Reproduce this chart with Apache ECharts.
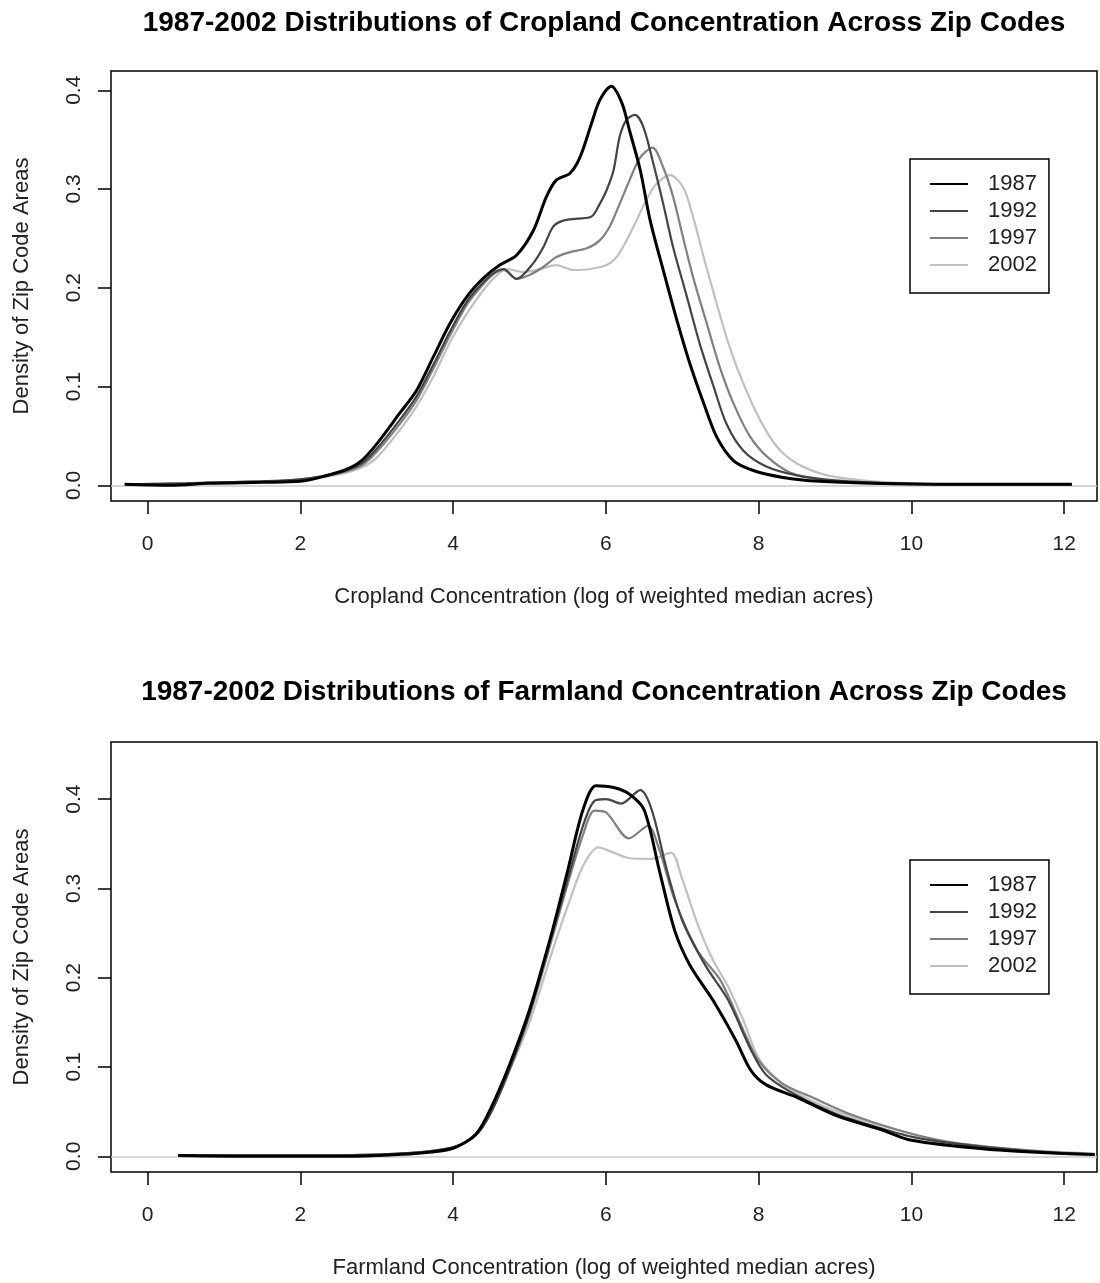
<!DOCTYPE html>
<html>
<head>
<meta charset="utf-8">
<script type="text/javascript" src="https://cdn.jsdelivr.net/npm/echarts@6/dist/echarts.min.js"></script>
<style type="text/css">
    * { margin: 0; padding: 0; }
    #container { width: 1100px; height: 1283px; background: #fff; }
</style>
</head>
<body>
<div id="container"></div>
<script type="text/javascript">
var years = ['1987', '1992', '1997', '2002'];
var xTicks = [0, 2, 4, 6, 8, 10, 12];
var yTicks = [0, 0.1, 0.2, 0.3, 0.4];

// cropland densities, [x, density]
var crop1987 = [[-0.3,0.001],[0.3,0.0],[0.8,0.002],[1.5,0.003],[2.0,0.004],[2.3,0.009],[2.6,0.016],[2.8,0.025],[3.0,0.042],[3.3,0.073],[3.52,0.096],[3.74,0.130],[3.96,0.164],[4.18,0.191],[4.4,0.210],[4.61,0.223],[4.83,0.233],[5.05,0.258],[5.22,0.292],[5.35,0.309],[5.53,0.316],[5.66,0.332],[5.81,0.366],[5.92,0.390],[6.07,0.404],[6.21,0.387],[6.31,0.359],[6.45,0.319],[6.58,0.268],[6.75,0.218],[6.93,0.167],[7.10,0.123],[7.28,0.083],[7.45,0.049],[7.67,0.025],[7.93,0.015],[8.32,0.008],[8.8,0.004],[9.5,0.002],[10.5,0.001],[12.1,0.001]];
var crop1992 = [[-0.3,0.001],[0.5,0.002],[1.5,0.004],[2.0,0.006],[2.5,0.013],[2.8,0.022],[3.0,0.037],[3.3,0.066],[3.52,0.090],[3.74,0.122],[3.96,0.156],[4.18,0.186],[4.4,0.206],[4.55,0.216],[4.66,0.219],[4.83,0.209],[5.05,0.225],[5.18,0.241],[5.31,0.262],[5.44,0.268],[5.62,0.270],[5.81,0.272],[5.92,0.285],[6.01,0.299],[6.10,0.319],[6.18,0.353],[6.27,0.370],[6.38,0.375],[6.49,0.363],[6.62,0.326],[6.75,0.285],[6.88,0.241],[7.06,0.191],[7.23,0.143],[7.41,0.100],[7.58,0.062],[7.80,0.035],[8.10,0.019],[8.50,0.010],[9.0,0.005],[9.8,0.002],[11,0.001],[12.1,0.001]];
var crop1997 = [[-0.3,0.001],[0.5,0.002],[1.5,0.004],[2.0,0.006],[2.5,0.012],[2.8,0.020],[3.0,0.034],[3.3,0.062],[3.52,0.086],[3.74,0.118],[3.96,0.152],[4.18,0.183],[4.4,0.204],[4.55,0.215],[4.66,0.218],[4.83,0.209],[5.00,0.213],[5.18,0.221],[5.35,0.231],[5.53,0.236],[5.75,0.240],[5.92,0.248],[6.05,0.262],[6.18,0.285],[6.31,0.309],[6.45,0.332],[6.61,0.342],[6.75,0.322],[6.88,0.292],[7.01,0.251],[7.14,0.211],[7.32,0.164],[7.49,0.120],[7.67,0.083],[7.89,0.049],[8.11,0.029],[8.41,0.013],[8.8,0.006],[9.5,0.002],[11,0.001],[12.1,0.001]];
var crop2002 = [[-0.3,0.001],[0.5,0.002],[1.5,0.004],[2.0,0.005],[2.5,0.011],[2.8,0.018],[3.0,0.028],[3.3,0.056],[3.52,0.080],[3.74,0.110],[3.96,0.145],[4.18,0.174],[4.4,0.198],[4.55,0.211],[4.70,0.219],[4.92,0.216],[5.14,0.219],[5.35,0.223],[5.57,0.218],[5.79,0.219],[6.01,0.223],[6.14,0.231],[6.27,0.248],[6.40,0.268],[6.53,0.289],[6.66,0.305],[6.84,0.314],[7.01,0.302],[7.14,0.272],[7.28,0.231],[7.45,0.184],[7.62,0.140],[7.80,0.103],[8.02,0.066],[8.24,0.039],[8.50,0.022],[8.9,0.010],[9.5,0.004],[10.5,0.001],[12.1,0.001]];

// farmland densities
var farm1987 = [[0.4,0.001],[1.5,0.0],[2.5,0.0],[3.0,0.001],[3.5,0.003],[4.0,0.009],[4.3,0.025],[4.5,0.055],[4.75,0.105],[5.0,0.164],[5.3,0.253],[5.5,0.320],[5.7,0.388],[5.87,0.415],[6.1,0.413],[6.3,0.406],[6.5,0.388],[6.7,0.320],[6.9,0.253],[7.1,0.214],[7.4,0.175],[7.7,0.130],[7.9,0.096],[8.1,0.080],[8.5,0.066],[9.0,0.046],[9.4,0.035],[9.6,0.030],[10,0.018],[11,0.008],[12,0.003],[12.4,0.002]];
var farm1992 = [[0.4,0.001],[2.0,0.001],[3.0,0.002],[3.5,0.004],[4.0,0.010],[4.3,0.024],[4.5,0.050],[4.75,0.100],[5.0,0.160],[5.3,0.250],[5.5,0.310],[5.7,0.370],[5.85,0.398],[6.0,0.400],[6.2,0.395],[6.45,0.410],[6.6,0.388],[6.8,0.320],[7.0,0.264],[7.3,0.214],[7.6,0.175],[7.9,0.119],[8.1,0.091],[8.5,0.068],[9.0,0.048],[9.5,0.034],[10,0.022],[10.5,0.015],[11.5,0.006],[12.4,0.002]];
var farm1997 = [[0.4,0.001],[2.0,0.001],[3.0,0.002],[3.5,0.004],[4.0,0.010],[4.3,0.024],[4.5,0.050],[4.75,0.100],[5.0,0.158],[5.3,0.245],[5.5,0.305],[5.7,0.360],[5.85,0.387],[6.0,0.385],[6.3,0.356],[6.55,0.370],[6.7,0.343],[6.9,0.287],[7.2,0.230],[7.5,0.197],[7.8,0.141],[8.0,0.107],[8.3,0.082],[8.7,0.066],[9.2,0.047],[9.8,0.030],[10.5,0.016],[11.5,0.007],[12.4,0.002]];
var farm2002 = [[0.4,0.001],[2.0,0.001],[3.0,0.002],[3.5,0.004],[4.0,0.010],[4.3,0.024],[4.5,0.050],[4.75,0.098],[5.0,0.150],[5.3,0.230],[5.5,0.280],[5.7,0.325],[5.9,0.346],[6.1,0.340],[6.3,0.334],[6.6,0.333],[6.85,0.340],[7.0,0.310],[7.2,0.260],[7.4,0.220],[7.6,0.190],[7.8,0.152],[8.0,0.110],[8.3,0.082],[8.7,0.062],[9.2,0.045],[9.8,0.030],[10.4,0.017],[11.3,0.008],[12.4,0.003]];

var cropData = [crop1987, crop1992, crop1997, crop2002];
var farmData = [farm1987, farm1992, farm1997, farm2002];

var lineColors = ['#000000', '#444444', '#808080', '#c0c0c0'];
var lineWidths = [3, 2.2, 2.2, 2.2];
var fontName = 'Liberation Sans';

var chart = echarts.init(document.getElementById('container'));

function makeSeries(datas, gridIdx) {
    var list = [];
    for (var i = 0; i < datas.length; i++) {
        var s = {
            name: years[i],
            type: 'line',
            xAxisIndex: gridIdx,
            yAxisIndex: gridIdx,
            data: datas[i],
            symbol: 'none',
            smooth: 0.3,
            animation: false,
            lineStyle: { color: lineColors[i], width: lineWidths[i] },
            itemStyle: { color: lineColors[i] },
            z: 10 - i
        };
        if (i == datas.length - 1) {
            // horizontal zero line
            s.markLine = {
                silent: true,
                symbol: ['none', 'none'],
                label: { show: false },
                lineStyle: { color: '#c8c8c8', width: 1.5, type: 'solid' },
                data: [{ yAxis: 0 }],
                animation: false
            };
        }
        list.push(s);
    }
    return list;
}

function makeX(idx, name) {
    return {
        type: 'value',
        gridIndex: idx,
        min: -0.48,
        max: 12.43,
        name: name,
        nameLocation: 'middle',
        nameGap: 85,
        nameTextStyle: { fontFamily: fontName, fontSize: 22, color: '#222' },
        axisLine: { show: false, onZero: false },
        axisTick: { show: true, length: 13, customValues: xTicks, lineStyle: { color: '#000', width: 1.5 } },
        axisLabel: { customValues: xTicks, margin: 33, fontFamily: fontName, fontSize: 21, color: '#222' },
        splitLine: { show: false }
    };
}

function makeY(idx, min, max) {
    return {
        type: 'value',
        gridIndex: idx,
        min: min,
        max: max,
        name: 'Density of Zip Code Areas',
        nameLocation: 'middle',
        nameRotate: 90,
        nameGap: 78,
        nameTextStyle: { fontFamily: fontName, fontSize: 22, color: '#222' },
        axisLine: { show: false, onZero: false },
        axisTick: { show: true, length: 13, customValues: yTicks, lineStyle: { color: '#000', width: 1.5 } },
        axisLabel: {
            customValues: yTicks, rotate: 90, margin: 26,
            fontFamily: fontName, fontSize: 21, color: '#222',
            formatter: function (v) { return v.toFixed(1); }
        },
        splitLine: { show: false }
    };
}

function makeLegend(top) {
    return {
        data: years,
        orient: 'vertical',
        left: 910,
        top: top,
        padding: [14, 12, 17, 19],
        borderColor: '#000',
        borderWidth: 1.5,
        itemWidth: 38,
        itemHeight: 10,
        itemGap: 5,
        selectedMode: false,
        itemStyle: { opacity: 0 },
        textStyle: { fontFamily: fontName, fontSize: 22, lineHeight: 22, color: '#222', padding: [0, 0, 0, 15] }
    };
}

var option = {
    backgroundColor: '#fff',
    title: [
        { text: '1987-2002 Distributions of Cropland Concentration Across Zip Codes', left: 604, top: 9, textAlign: 'center', padding: 0,
          textStyle: { fontFamily: fontName, fontSize: 28, fontWeight: 'bold', color: '#000' } },
        { text: '1987-2002 Distributions of Farmland Concentration Across Zip Codes', left: 604, top: 678, textAlign: 'center', padding: 0,
          textStyle: { fontFamily: fontName, fontSize: 28, fontWeight: 'bold', color: '#000' } }
    ],
    legend: [makeLegend(159), makeLegend(860)],
    grid: [
        { left: 111, top: 71, width: 986, height: 430, show: true, borderColor: '#000', borderWidth: 1.5, backgroundColor: 'transparent' },
        { left: 111, top: 742, width: 986, height: 430, show: true, borderColor: '#000', borderWidth: 1.5, backgroundColor: 'transparent' }
    ],
    xAxis: [
        makeX(0, 'Cropland Concentration (log of weighted median acres)'),
        makeX(1, 'Farmland Concentration (log of weighted median acres)')
    ],
    yAxis: [
        makeY(0, -0.0159, 0.4195),
        makeY(1, -0.0176, 0.4639)
    ],
    series: makeSeries(cropData, 0).concat(makeSeries(farmData, 1))
};

chart.setOption(option);
</script>
</body>
</html>
